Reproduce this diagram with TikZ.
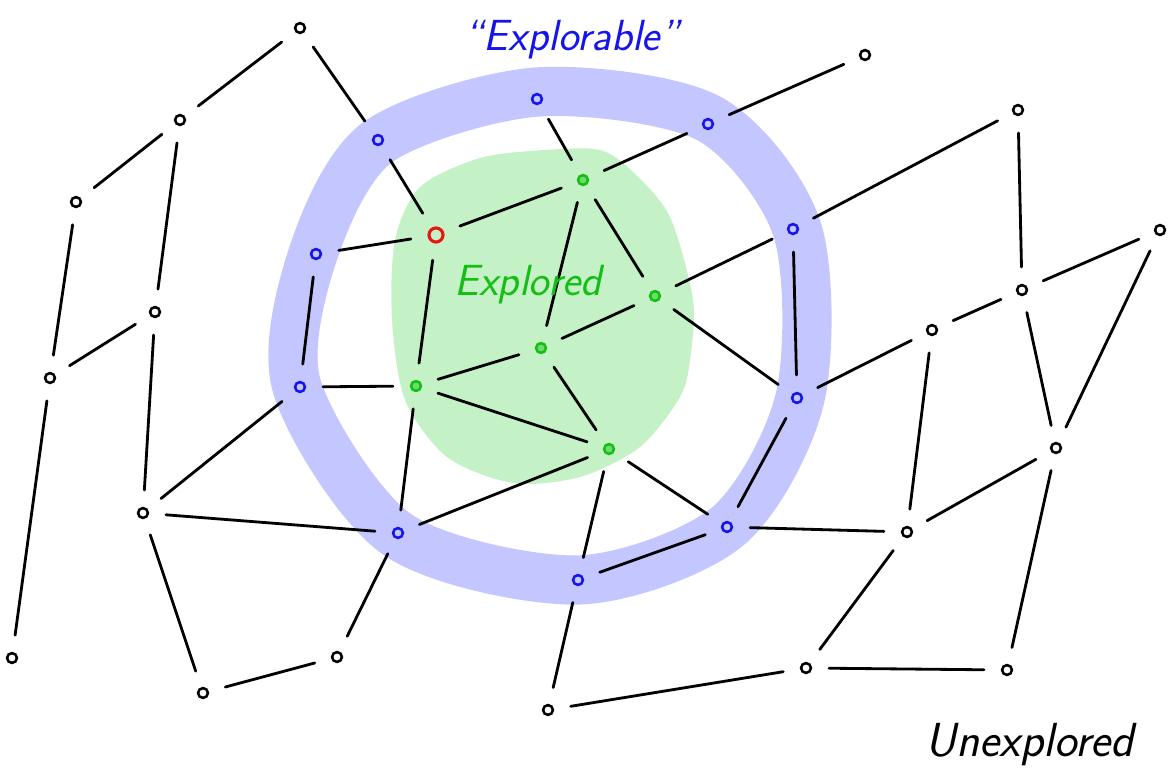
\documentclass[tikz,border=0pt]{standalone}
\usepackage{xcolor}
\usepackage{tikz}
\usetikzlibrary{positioning, calc}
\definecolor{ringblue}{RGB}{196, 198, 255}
\definecolor{blobgreen}{RGB}{196, 242, 198}
\definecolor{penblue}{RGB}{20, 20, 235}
\definecolor{pengreen}{RGB}{20, 190, 20}
\definecolor{penred}{RGB}{235, 20, 20}

\tikzset{
    vtx/.style={circle, draw, line width=1.8pt, inner sep=0pt, minimum size=7pt},
    frontier/.style={vtx, draw=penblue},
    done/.style={vtx, draw=pengreen, fill=pengreen!60},
    current/.style={vtx, draw=penred, minimum size=10pt, line width=2.2pt},
    link/.style={line width=2pt, line cap=round, shorten <=12pt, shorten >=12pt},
    hand/.style={font=\sffamily\itshape\fontsize{31}{34}\selectfont}
}

\begin{document}
\begin{tikzpicture}[x=0.025cm, y=-0.025cm]
    \useasboundingbox (0,0) rectangle (1172,782);

    % explored area and the explorable ring
    \fill[blobgreen] plot[smooth cycle] coordinates {(600,150) (633,172) (670,217) (693,300) (690,360)
        (680,397) (640,447) (580,477) (513,483) (447,457) (405,400) (392,320) (395,240) (420,187)
        (480,158) (545,150)};
    \draw[ringblue, line width=35pt] plot[smooth cycle] coordinates {(537,92) (708,118) (797,229)
        (800,398) (727,527) (578,580) (398,535) (297,387) (313,254) (378,142)};

    % unexplored vertices
    \node[vtx] (u1) at (300,28) {};
    \node[vtx] (u2) at (180,120) {};
    \node[vtx] (u3) at (76,202) {};
    \node[vtx] (u4) at (155,312) {};
    \node[vtx] (u5) at (50,378) {};
    \node[vtx] (u6) at (143,513) {};
    \node[vtx] (u7) at (12,658) {};
    \node[vtx] (u8) at (203,693) {};
    \node[vtx] (u9) at (337,657) {};
    \node[vtx] (u10) at (548,710) {};
    \node[vtx] (u11) at (865,55) {};
    \node[vtx] (u12) at (1018,110) {};
    \node[vtx] (u13) at (1160,230) {};
    \node[vtx] (u14) at (1022,290) {};
    \node[vtx] (u15) at (932,330) {};
    \node[vtx] (u16) at (1056,448) {};
    \node[vtx] (u17) at (907,532) {};
    \node[vtx] (u18) at (806,668) {};
    \node[vtx] (u19) at (1007,670) {};

    % frontier vertices
    \node[frontier] (f1) at (378,140) {};
    \node[frontier] (f2) at (537,99) {};
    \node[frontier] (f3) at (708,124) {};
    \node[frontier] (f4) at (793,229) {};
    \node[frontier] (f5) at (316,254) {};
    \node[frontier] (f6) at (300,387) {};
    \node[frontier] (f7) at (797,398) {};
    \node[frontier] (f8) at (398,533) {};
    \node[frontier] (f9) at (727,527) {};
    \node[frontier] (f10) at (578,580) {};

    % explored vertices
    \node[current] (e0) at (436,235) {};
    \node[done] (e1) at (583,180) {};
    \node[done] (e2) at (655,296) {};
    \node[done] (e3) at (541,348) {};
    \node[done] (e4) at (416,386) {};
    \node[done] (e5) at (609,449) {};

    % edges
    \foreach \a/\b in {u1/u2, u1/f1, u2/u3, u2/u4, u3/u5, u4/u5, u4/u6, u5/u7, u6/f6, u6/f8,
        u6/u8, u8/u9, u9/f8, f1/e0, f5/e0, f5/f6, f6/e4, e0/e1, e0/e4, f2/e1, e1/f3, f3/u11,
        e1/e3, e1/e2, e2/f4, f4/u12, f4/f7, e2/f7, e2/e3, e3/e4, e3/e5, e4/e5, e4/f8, e5/f8,
        e5/f10, e5/f9, f9/f10, f10/u10, u10/u18, f7/f9, f9/u17, f7/u15, u15/u14, u14/u13,
        u12/u14, u13/u16, u14/u16, u15/u17, u16/u17, u16/u19, u17/u18, u18/u19}
        \draw[link] (\a) -- (\b);

    % labels
    \node[hand, text=penblue] (explorable) at (572,40) {\textquotedblleft Explorable\textquotedblright};
    \node[hand, text=pengreen] (explored) at (528,285) {Explored};
    \node[hand, font=\sffamily\itshape\fontsize{34}{38}\selectfont] (unexplored) at (1030,745) {Unexplored};
\end{tikzpicture}
\end{document}
